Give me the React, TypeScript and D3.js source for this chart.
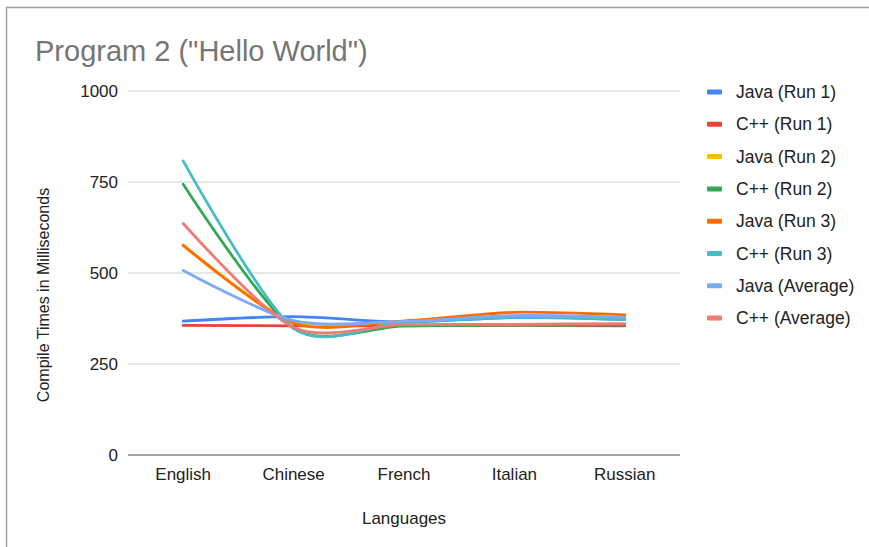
import React, { useEffect, useRef } from 'react';
import * as d3 from 'd3';

const languages = ['English', 'Chinese', 'French', 'Italian', 'Russian'];
const seriesNames = [
  'Java (Run 1)', 'C++ (Run 1)', 'Java (Run 2)', 'C++ (Run 2)',
  'Java (Run 3)', 'C++ (Run 3)', 'Java (Average)', 'C++ (Average)',
];
const javaRun1 = [368, 380, 365, 378, 372];
const cppRun1 = [356, 355, 355, 356, 355];
const javaRun2 = [577, 365, 368, 380, 378];
const cppRun2 = [744, 348, 355, 357, 357];
const javaRun3 = [576, 362, 368, 392, 385];
const cppRun3 = [808, 348, 365, 378, 372];
const javaAvg = [507, 369, 367, 383, 378];
const cppAvg = [636, 350, 358, 359, 361];
const yTicks = [0, 250, 500, 750, 1000];
const colors = ['#4285f4', '#ea4335', '#fbbc04', '#34a853', '#ff6d01', '#46bdc6', '#7baaf7', '#f07b72'];

const W = 869;
const H = 547;
const margin = { top: 91, right: 189, bottom: 92, left: 128 };
const font = 'Arial, "Liberation Sans", sans-serif';

const App = () => {
  const ref = useRef<SVGSVGElement>(null);

  useEffect(() => {
    const series = [javaRun1, cppRun1, javaRun2, cppRun2, javaRun3, cppRun3, javaAvg, cppAvg];
    const svg = d3.select(ref.current);
    svg.selectAll('*').remove();

    // frame
    svg.append('line').attr('x1', 6).attr('x2', W).attr('y1', 7.5).attr('y2', 7.5)
      .attr('stroke', '#9e9e9e').attr('stroke-width', 1.5);
    svg.append('line').attr('x1', 6.5).attr('x2', 6.5).attr('y1', 7).attr('y2', H)
      .attr('stroke', '#9e9e9e').attr('stroke-width', 1.5);

    svg.append('text').attr('x', 35).attr('y', 61)
      .attr('font-family', font).attr('font-size', 29).attr('fill', '#757575')
      .text('Program 2 ("Hello World")');

    const x = d3.scaleBand().domain(languages).range([margin.left, W - margin.right]);
    const y = d3.scaleLinear().domain([0, 1000]).range([H - margin.bottom, margin.top]);

    const g = svg.append('g');
    yTicks.forEach((t) => {
      g.append('line').attr('x1', margin.left).attr('x2', W - margin.right)
        .attr('y1', y(t)).attr('y2', y(t))
        .attr('stroke', t === 0 ? '#8a8a8a' : '#d0d0d0').attr('stroke-width', t === 0 ? 1.6 : 1.2);
      g.append('text').attr('x', 118).attr('y', y(t)).attr('dy', '0.35em')
        .attr('text-anchor', 'end').attr('font-family', font).attr('font-size', 17).attr('fill', '#222')
        .text(t);
    });

    languages.forEach((l) => {
      g.append('text').attr('x', x(l)! + x.bandwidth() / 2).attr('y', 480)
        .attr('text-anchor', 'middle').attr('font-family', font).attr('font-size', 17).attr('fill', '#222')
        .text(l);
    });

    svg.append('text').attr('x', x('French')! + x.bandwidth() / 2).attr('y', 524)
      .attr('text-anchor', 'middle').attr('font-family', font).attr('font-size', 17).attr('fill', '#222')
      .text('Languages');

    svg.append('text').attr('transform', 'translate(49,295) rotate(-90)')
      .attr('text-anchor', 'middle').attr('font-family', font).attr('font-size', 16).attr('fill', '#222')
      .text('Compile Times in Milliseconds');

    const line = d3.line<number>()
      .x((_, i) => x(languages[i])! + x.bandwidth() / 2)
      .y((d) => y(d))
      .curve(d3.curveCardinal.tension(0.2));

    series.forEach((s, i) => {
      svg.append('path').datum(s).attr('d', line)
        .attr('fill', 'none').attr('stroke', colors[i]).attr('stroke-width', 2.8)
        .attr('stroke-linecap', 'round');
    });

    const legend = svg.append('g').attr('transform', 'translate(707,92)');
    seriesNames.forEach((n, i) => {
      const row = legend.append('g').attr('transform', `translate(0,${i * 32.3})`);
      row.append('rect').attr('x', 0).attr('y', -2.5).attr('width', 15).attr('height', 5)
        .attr('rx', 1).attr('fill', colors[i]);
      row.append('text').attr('x', 29).attr('y', 0).attr('dy', '0.35em')
        .attr('font-family', font).attr('font-size', 17.5).attr('fill', '#222')
        .text(n);
    });
  }, []);

  return (
    <svg ref={ref} width={W} height={H}
      style={{ position: 'absolute', left: 0, top: 0, background: '#fff' }} />
  );
};

export default App;
